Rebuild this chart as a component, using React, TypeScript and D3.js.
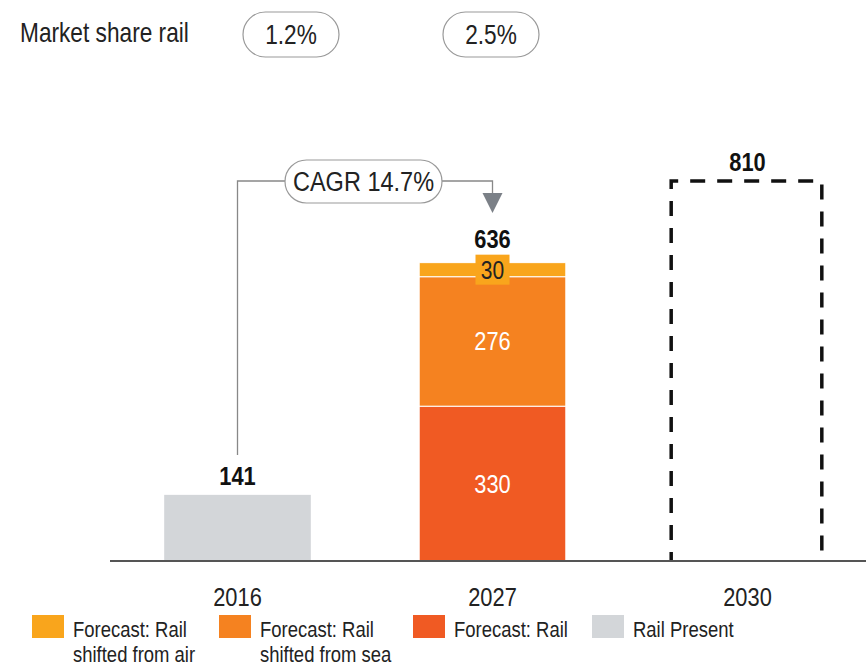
import * as d3 from "d3";
import type { ReactNode } from "react";

const years = ["2016", "2027", "2030"];
const railPresent = [141, 0, 0];
const forecastRail = [0, 330, 0];
const shiftedSea = [0, 276, 0];
const shiftedAir = [0, 30, 0];
const totals = [141, 636, 810];
const projected = [false, false, true];
const marketShare = ["1.2%", "2.5%"];
const cagrLabel = "CAGR 14.7%";

const KEYS = ["present", "rail", "sea", "air"] as const;
const COLORS: Record<string, string> = {
  air: "#f9a51c",
  sea: "#f58220",
  rail: "#f05a23",
  present: "#d3d6d9",
};
const LEGEND = [
  { key: "air", lines: ["Forecast: Rail", "shifted from air"] },
  { key: "sea", lines: ["Forecast: Rail", "shifted from sea"] },
  { key: "rail", lines: ["Forecast:  Rail"] },
  { key: "present", lines: ["Rail Present"] },
];

const FONT = "'Liberation Sans', Arial, sans-serif";
const W = 866;
const H = 668;
const BASE = 561;
const SQUEEZE = 0.84; // no narrow face installed, so condense horizontally

// condensed text, anchored at (x, y)
function NText(props: {
  x: number;
  y: number;
  size: number;
  anchor?: "start" | "middle" | "end";
  fill?: string;
  bold?: boolean;
  children: ReactNode;
}) {
  const { x, y, size, anchor = "start", fill = "#222", bold, children } = props;
  return (
    <text
      transform={`translate(${x},${y}) scale(${SQUEEZE},1)`}
      fontSize={size}
      textAnchor={anchor}
      fill={fill}
      fontWeight={bold ? "bold" : "normal"}
    >
      {children}
    </text>
  );
}

export default function App() {
  const rows = years.map((year, i) => ({
    year,
    present: railPresent[i],
    rail: forecastRail[i],
    sea: shiftedSea[i],
    air: shiftedAir[i],
  }));

  const x = d3
    .scaleBand<string>()
    .domain(years)
    .range([110, 875])
    .paddingInner(0.425)
    .paddingOuter(0.2125);

  const y = d3.scaleLinear().domain([0, 810]).range([BASE, 181]);

  const series = d3.stack<(typeof rows)[0]>().keys(KEYS as unknown as string[])(rows);

  const cx = (yr: string) => (x(yr) ?? 0) + x.bandwidth() / 2;

  // CAGR connector geometry
  const x0 = cx(years[0]);
  const x1 = cx(years[1]);
  const yLine = y(810);
  const pillL = 285;
  const pillR = 442;

  return (
    <svg
      width={W}
      height={H}
      style={{ position: "absolute", left: 0, top: 0, fontFamily: FONT }}
    >
      <rect width={W} height={H} fill="#fff" />

      {/* market share row */}
      <NText x={20} y={42} size={27}>
        Market share rail
      </NText>
      {marketShare.map((m, i) => {
        const left = [243, 443][i];
        return (
          <g key={m}>
            <rect
              x={left}
              y={12}
              width={96}
              height={45}
              rx={22.5}
              fill="#fff"
              stroke="#999"
              strokeWidth={1.2}
            />
            <NText x={left + 48} y={44} size={27} anchor="middle">
              {m}
            </NText>
          </g>
        );
      })}

      {/* stacked bars */}
      {series.map((s) =>
        s.map((d, i) => {
          const h = y(d[0]) - y(d[1]);
          if (h <= 0) return null;
          return (
            <rect
              key={s.key + i}
              x={x(years[i])}
              y={y(d[1])}
              width={x.bandwidth()}
              height={h}
              fill={COLORS[s.key]}
              stroke={s.key === "present" ? "none" : "#fff"}
              strokeWidth={s.key === "present" ? 0 : 1}
            />
          );
        })
      )}

      {/* inner labels */}
      {series.map((s) =>
        s.map((d, i) => {
          const v = d[1] - d[0];
          if (v <= 0 || s.key === "present") return null;
          const mid = (y(d[0]) + y(d[1])) / 2;
          if (s.key === "air") {
            return (
              <g key={"l" + s.key + i}>
                <rect x={cx(years[i]) - 17} y={mid - 15} width={34} height={30} fill={COLORS.air} />
                <NText x={cx(years[i])} y={mid + 9} size={25} anchor="middle">
                  {v}
                </NText>
              </g>
            );
          }
          return (
            <NText key={"l" + s.key + i} x={cx(years[i])} y={mid + 9} size={26} anchor="middle" fill="#fff">
              {v}
            </NText>
          );
        })
      )}

      {/* projected (dashed) bar */}
      {years.map((yr, i) =>
        projected[i] ? (
          <path
            key={"p" + yr}
            d={`M${(x(yr) ?? 0) - 3},${BASE} V${y(totals[i])} H${(x(yr) ?? 0) + x.bandwidth() + 1} V${BASE}`}
            fill="none"
            stroke="#111"
            strokeWidth={3.5}
            strokeDasharray="15,12"
            strokeDashoffset={6}
          />
        ) : null
      )}

      {/* totals (stacked bar label sits higher, above the small "30" tag) */}
      {years.map((yr, i) => (
        <NText
          key={"t" + yr}
          x={cx(yr)}
          y={y(totals[i]) - (shiftedAir[i] > 0 ? 15 : 10)}
          size={26}
          bold
          anchor="middle"
          fill="#111"
        >
          {totals[i]}
        </NText>
      ))}

      {/* CAGR connector */}
      <path
        d={`M${x0},455 V${yLine} H${pillL} M${pillR},${yLine} H${x1} V194`}
        fill="none"
        stroke="#888"
        strokeWidth={1.3}
      />
      <path d={`M${x1 - 10},193 L${x1 + 10},193 L${x1},213 Z`} fill="#7b8087" />
      <rect
        x={pillL}
        y={160}
        width={pillR - pillL}
        height={43}
        rx={21.5}
        fill="#fff"
        stroke="#999"
        strokeWidth={1.2}
      />
      <NText x={(pillL + pillR) / 2} y={191} size={28} anchor="middle">
        {cagrLabel}
      </NText>

      {/* axis */}
      <line x1={110} x2={W} y1={BASE} y2={BASE} stroke="#555" strokeWidth={2} />
      {years.map((yr) => (
        <NText key={"a" + yr} x={cx(yr)} y={606} size={26} anchor="middle">
          {yr}
        </NText>
      ))}

      {/* legend */}
      {LEGEND.map((l, i) => {
        const lx = [32, 219, 413, 592][i];
        return (
          <g key={l.key}>
            <rect x={lx} y={615} width={32} height={23} fill={COLORS[l.key]} />
            {l.lines.map((t, j) => (
              <NText key={j} x={lx + 41} y={637 + j * 25} size={22}>
                {t}
              </NText>
            ))}
          </g>
        );
      })}
    </svg>
  );
}
